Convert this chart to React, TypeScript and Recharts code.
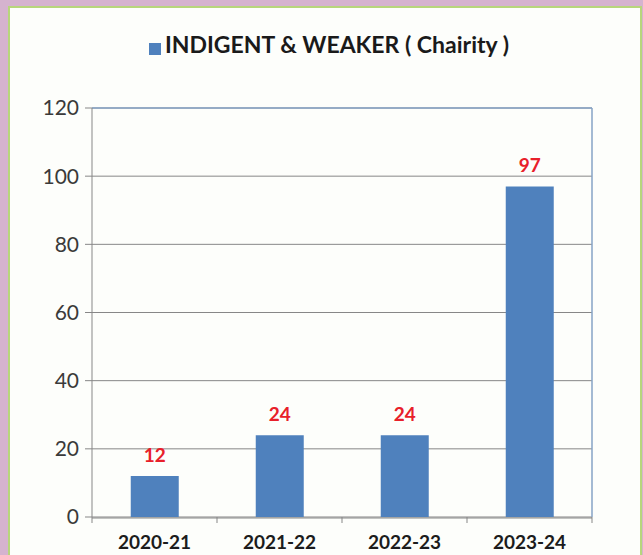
import { BarChart, Bar, XAxis, YAxis, CartesianGrid, Legend, LabelList, ReferenceLine } from 'recharts';

const years = ['2020-21', '2021-22', '2022-23', '2023-24'];
const beneficiaries = [12, 24, 24, 97];
const yTicks = [0, 20, 40, 60, 80, 100, 120];
const boundaryTicks = [0, 1, 2, 3, 4];

const SERIES_NAME = 'INDIGENT & WEAKER ( Chairity )';
const BAR_COLOR = '#4f81bd';
const GRID = '#878787';
const FRAME_BLUE = '#86a3c6';

const data = years.map((year, i) => ({ year, idx: i, value: beneficiaries[i] }));

export default function App() {
  return (
    <div
      style={{
        position: 'absolute',
        left: 0,
        top: 0,
        width: 643,
        height: 555,
        overflow: 'hidden',
        background: '#d5b3cf',
        fontFamily: 'Lato, sans-serif',
      }}
    >
      <div
        style={{
          position: 'absolute',
          left: 8,
          top: 6,
          width: 630,
          height: 600,
          border: '2px solid #b7d67c',
          background: '#fdfefb',
        }}
      />
      <div style={{ position: 'absolute', left: 0, top: 0 }}>
        <BarChart
          width={643}
          height={555}
          data={data}
          margin={{ top: 80, right: 51, bottom: 0, left: 0 }}
          barCategoryGap="31%"
        >
          <CartesianGrid vertical={false} stroke={GRID} strokeWidth={1} />
          <XAxis
            xAxisId="b_cat"
            dataKey="year"
            height={37}
            tickLine={false}
            tickSize={0}
            tickMargin={18}
            axisLine={{ stroke: GRID }}
            tick={{ fill: '#1c1c1c', fontSize: 19, fontWeight: 700 }}
          />
          <XAxis
            xAxisId="a_ticks"
            type="number"
            dataKey="idx"
            domain={[0, 4]}
            ticks={boundaryTicks}
            allowDataOverflow
            height={1}
            tickFormatter={() => ''}
            tickSize={6}
            tickLine={{ stroke: GRID }}
            axisLine={false}
          />
          <YAxis
            width={92}
            domain={[0, 120]}
            ticks={yTicks}
            tickSize={7}
            tickMargin={6}
            tickLine={{ stroke: GRID }}
            axisLine={{ stroke: GRID }}
            tick={{ fill: '#3a3a3a', fontSize: 21 }}
          />
          <ReferenceLine y={120} xAxisId="b_cat" stroke={FRAME_BLUE} strokeWidth={1.5} />
          <ReferenceLine x={4} xAxisId="a_ticks" stroke={FRAME_BLUE} strokeWidth={1.5} />
          <Legend
            verticalAlign="top"
            iconType="square"
            iconSize={12}
            wrapperStyle={{ top: 30, left: 0, width: 668 }}
            formatter={(value) => (
              <span style={{ color: '#1a1a1a', fontWeight: 700, fontSize: 23 }}>{value}</span>
            )}
          />
          <Bar
            xAxisId="b_cat"
            dataKey="value"
            name={SERIES_NAME}
            fill={BAR_COLOR}
            isAnimationActive={false}
          >
            <LabelList
              dataKey="value"
              position="top"
              offset={14}
              fill="#e8202a"
              fontSize={19}
              fontWeight={700}
            />
          </Bar>
        </BarChart>
      </div>
    </div>
  );
}
